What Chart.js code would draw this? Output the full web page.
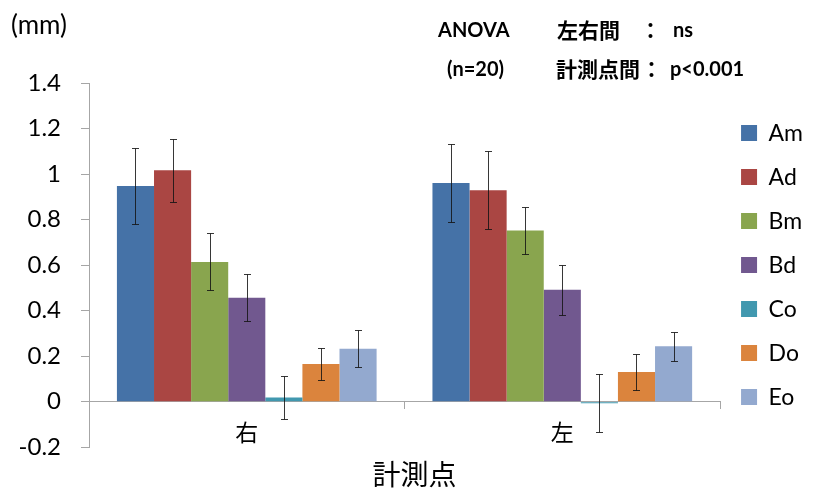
<!DOCTYPE html>
<html>
<head>
<meta charset="utf-8">
<script src="https://cdn.jsdelivr.net/npm/chart.js@4/dist/chart.umd.min.js"></script>
<style>
  html, body { margin: 0; padding: 0; background: #ffffff; }
  #wrap { width: 813px; height: 490px; }
</style>
</head>
<body>
<div id="wrap"><canvas id="chart" width="813" height="490"></canvas></div>
<script>
// Measurement sites (左右) and per-site mean displacement in mm
const categories = ['右', '左'];
const seriesNames = ['Am', 'Ad', 'Bm', 'Bd', 'Co', 'Do', 'Eo'];

const amMean = [0.948, 0.961];
const adMean = [1.017, 0.929];
const bmMean = [0.614, 0.752];
const bdMean = [0.457, 0.492];
const coMean = [0.018, -0.007];
const doMean = [0.165, 0.130];
const eoMean = [0.233, 0.244];

// Standard deviation shown as error bars
const amSd = [0.167, 0.172];
const adSd = [0.138, 0.171];
const bmSd = [0.125, 0.105];
const bdSd = [0.103, 0.110];
const coSd = [0.095, 0.127];
const doSd = [0.070, 0.080];
const eoSd = [0.080, 0.064];

const yTicks = [-0.2, 0, 0.2, 0.4, 0.6, 0.8, 1, 1.2, 1.4];

const means = [amMean, adMean, bmMean, bdMean, coMean, doMean, eoMean];
const sds = [amSd, adSd, bmSd, bdSd, coSd, doSd, eoSd];
const palette = ['#4572A7', '#AA4643', '#89A54E', '#71588F', '#4198AF', '#DB843D', '#93A9CF'];

const FONT = "Lato, 'Noto Sans CJK JP', sans-serif";
const JP = "'Noto Sans CJK JP', Lato, sans-serif";
Chart.defaults.font.family = FONT;
Chart.defaults.color = '#000000';

// Draws mean ± SD whiskers on every bar
const errorBars = {
  id: 'errorBars',
  afterDatasetsDraw(chart) {
    const ctx = chart.ctx;
    const yScale = chart.scales.y;
    ctx.save();
    ctx.strokeStyle = 'rgba(20,20,20,0.85)';
    ctx.lineWidth = 1;
    chart.data.datasets.forEach((ds, i) => {
      const meta = chart.getDatasetMeta(i);
      meta.data.forEach((bar, j) => {
        const v = ds.data[j];
        const e = ds.sd[j];
        const x = Math.round(bar.x) + 0.5;
        const yHi = Math.round(yScale.getPixelForValue(v + e)) + 0.5;
        const yLo = Math.round(yScale.getPixelForValue(v - e)) + 0.5;
        const cap = 3.5;
        ctx.beginPath();
        ctx.moveTo(x, yHi); ctx.lineTo(x, yLo);
        ctx.moveTo(x - cap, yHi); ctx.lineTo(x + cap, yHi);
        ctx.moveTo(x - cap, yLo); ctx.lineTo(x + cap, yLo);
        ctx.stroke();
      });
    });
    ctx.restore();
  }
};

// Unit label and ANOVA summary
const notes = {
  id: 'notes',
  afterDraw(chart) {
    const ctx = chart.ctx;
    ctx.save();
    ctx.fillStyle = '#000000';
    ctx.textBaseline = 'middle';
    ctx.textAlign = 'left';
    ctx.font = '26px ' + FONT;
    ctx.fillText('(mm)', 11, 26);
    ctx.font = 'bold 20px ' + FONT;
    ctx.fillText('ANOVA', 438, 31);
    ctx.fillText('(n=20)', 447, 70);
    ctx.fillText('ns', 673, 31);
    ctx.fillText('p<0.001', 670, 70);
    ctx.font = 'bold 21px ' + JP;
    ctx.fillText('左右間', 557, 30);
    ctx.fillText('：', 640, 30);
    ctx.fillText('計測点間', 556, 69);
    ctx.fillText('：', 641, 69);
    ctx.restore();
  }
};

const datasets = seriesNames.map((name, i) => ({
  label: name,
  data: means[i],
  sd: sds[i],
  backgroundColor: palette[i],
  borderWidth: 0,
  categoryPercentage: 0.823,
  barPercentage: 1.0
}));

new Chart(document.getElementById('chart'), {
  type: 'bar',
  data: { labels: categories, datasets },
  options: {
    responsive: false,
    animation: false,
    devicePixelRatio: 1,
    layout: { padding: { top: 83, left: 16, right: 0, bottom: 0 } },
    scales: {
      x: {
        position: { y: 0 },
        afterFit: (s) => { s.height = 0; },
        ticks: { font: { size: 23, family: JP }, color: '#000000', padding: 10 },
        grid: { drawOnChartArea: false, tickLength: 7, color: '#a6a6a6', offset: true },
        border: { color: '#a6a6a6' }
      },
      y: {
        min: -0.2,
        max: 1.4,
        afterBuildTicks: (s) => { s.ticks = yTicks.map(v => ({ value: v })); },
        afterFit: (s) => { s.width = 73; },
        ticks: {
          font: { size: 24 },
          color: '#000000',
          padding: 20,
          callback: (v) => String(Math.round(v * 10) / 10)
        },
        grid: { drawOnChartArea: false, tickLength: 8, color: '#a6a6a6' },
        border: { color: '#a6a6a6' }
      }
    },
    plugins: {
      legend: {
        position: 'right',
        fullSize: false,
        labels: { boxWidth: 16, boxHeight: 16, padding: 21, font: { size: 23 }, color: '#000000' }
      },
      title: {
        display: true,
        text: '計測点',
        position: 'bottom',
        font: { size: 28, weight: 'normal', family: JP, lineHeight: 1.1 },
        color: '#000000',
        padding: { top: 12, bottom: 0 }
      },
      tooltip: { enabled: false }
    }
  },
  plugins: [errorBars, notes]
});
</script>
</body>
</html>
